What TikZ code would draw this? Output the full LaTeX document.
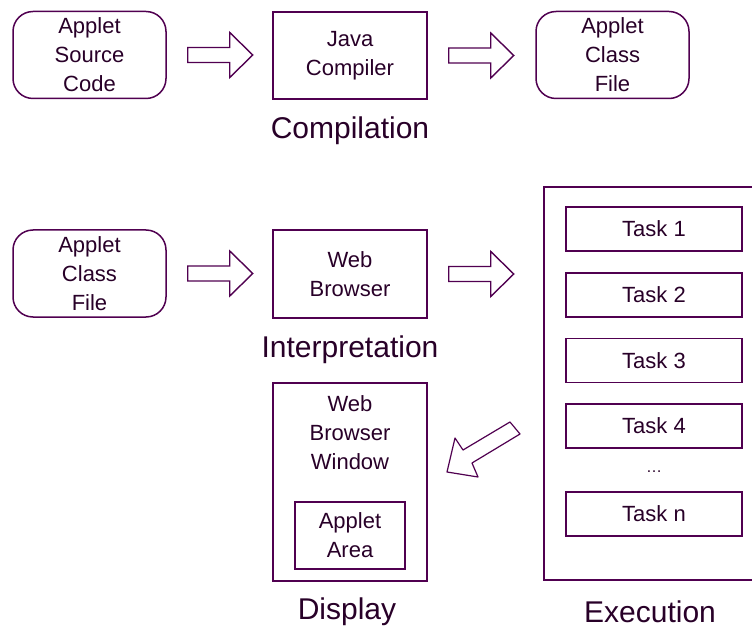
\documentclass[tikz,border=0pt]{standalone}
\usepackage{fontspec}
\setmainfont{Liberation Sans}
\usetikzlibrary{calc}
\definecolor{ln}{RGB}{80,0,80}
\definecolor{tx}{RGB}{40,0,40}
\begin{document}
\begin{tikzpicture}[x=1pt,y=-1pt,
  box/.style={draw=ln,line width=1.5pt,minimum width=153pt,minimum height=87pt,inner sep=0pt,
    align=center,text=tx,font=\fontsize{22}{29}\selectfont},
  rbox/.style={box,rounded corners=20pt},
  task/.style={draw=ln,line width=1.5pt,minimum width=176pt,minimum height=44pt,inner sep=0pt,
    text=tx,font=\fontsize{22}{26}\selectfont},
  lbl/.style={text=tx,font=\fontsize{30}{34}\selectfont,inner sep=0pt},
  blk/.style={draw=ln,line width=1.4pt,fill=white},
  blockarrow/.pic={\draw[blk] (0,-7.5) -- (42,-7.5) -- (42,-22.5) -- (65,0) -- (42,22.5) -- (42,7.5) -- (0,7.5) -- cycle;}
]
\useasboundingbox (0,0) rectangle (752,628);
% row 1
\node[rbox] (src) at (89.5,55) {Applet\\Source\\Code};
\node[box,minimum width=154pt] (jc) at (350,55.5) {Java\\Compiler};
\node[rbox] (acf1) at (612.5,55) {Applet\\Class\\File};
\pic at ($(src.east)+(21,0)$) {blockarrow};
\pic at ($(jc.east)+(21,0)$) {blockarrow};
\node[lbl] (comp) at (350,131) {Compilation};
% row 2
\node[rbox] (acf2) at (89.5,273.5) {Applet\\Class\\File};
\node[box,minimum width=154pt,minimum height=88pt] (wb) at (350,274) {Web\\Browser};
\pic at ($(acf2.east)+(21,0)$) {blockarrow};
\pic at ($(wb.east)+(21,0)$) {blockarrow};
\node[lbl] (interp) at (350,350) {Interpretation};
% execution
\draw[draw=ln,line width=1.5pt] (544,187) rectangle (770,580);
\coordinate (execbox) at (544,187);
\node[task] (t1) at (654,229) {Task 1};
\node[task] (t2) at (654,295) {Task 2};
\node[task] (t3) at (654,360.5) {Task 3};
\node[task] (t4) at (654,426) {Task 4};
\node[text=tx,font=\fontsize{16}{18}\selectfont,inner sep=0pt] (dots) at (654,472) {\dots};
\node[task] (tn) at (654,514) {Task n};
\node[lbl] (exec) at (650,612) {Execution};
% display
\node[draw=ln,line width=1.5pt,minimum width=154pt,minimum height=198pt,inner sep=0pt] (disp) at (350,482) {};
\node[text=tx,font=\fontsize{22}{29}\selectfont,align=center,anchor=north,inner sep=0pt] (dtext) at (350,395) {Web\\Browser\\Window};
\node[box,minimum width=110pt,minimum height=67pt] (area) at (350,535.5) {Applet\\Area};
\node[lbl] (displ) at (347,612) {Display};
% diagonal arrow
\draw[draw=ln,line width=1.2pt,line join=round] (510,422) -- (463,450) -- (455,438) -- (447,472) -- (478,477) -- (472,463) -- (520,434) -- cycle;
\end{tikzpicture}
\end{document}
